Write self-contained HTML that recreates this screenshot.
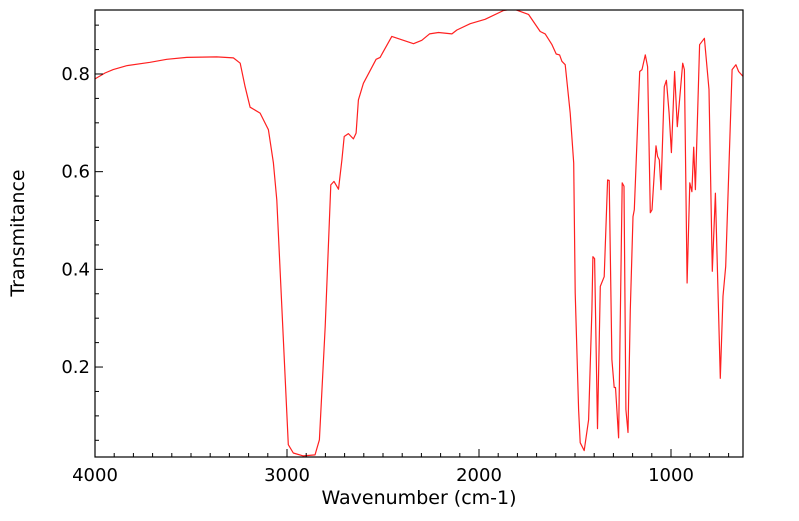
<!DOCTYPE html>
<html><head><meta charset="utf-8"><style>
body{margin:0;background:#fff;}
svg text{font-family:"DejaVu Sans","Liberation Sans",sans-serif;}
</style></head><body>
<svg id="chart" width="799" height="516" xmlns="http://www.w3.org/2000/svg"></svg>
<script>
const wavenumbers=[4000,3948,3905,3835,3713,3626,3522,3366,3279,3244,3218,3192,3140,3097,3071,3053,2993,2967,2915,2854,2831,2801,2772,2755,2732,2714,2702,2680,2654,2640,2628,2602,2536,2515,2454,2341,2298,2258,2211,2141,2115,2046,1968,1872,1820,1742,1681,1655,1620,1598,1580,1568,1551,1525,1507,1499,1481,1473,1452,1429,1412,1407,1398,1383,1368,1348,1330,1322,1308,1296,1289,1273,1254,1245,1235,1224,1212,1198,1191,1163,1151,1134,1122,1108,1099,1078,1070,1061,1052,1035,1024,1010,998,981,967,939,930,916,902,891,882,873,851,826,802,785,769,743,729,715,682,662,648,625];
const transmittance=[0.790,0.802,0.809,0.817,0.824,0.830,0.834,0.835,0.833,0.822,0.774,0.732,0.720,0.686,0.618,0.542,0.041,0.024,0.018,0.020,0.051,0.283,0.573,0.580,0.564,0.624,0.672,0.678,0.667,0.679,0.747,0.781,0.830,0.834,0.877,0.862,0.869,0.882,0.885,0.882,0.890,0.903,0.912,0.930,0.933,0.922,0.887,0.882,0.860,0.841,0.839,0.826,0.819,0.720,0.618,0.352,0.113,0.045,0.029,0.092,0.317,0.426,0.422,0.074,0.365,0.385,0.583,0.582,0.215,0.158,0.158,0.055,0.577,0.570,0.113,0.066,0.317,0.508,0.522,0.805,0.809,0.839,0.815,0.516,0.522,0.653,0.631,0.624,0.563,0.774,0.787,0.720,0.639,0.805,0.692,0.822,0.809,0.372,0.577,0.559,0.650,0.563,0.860,0.873,0.768,0.396,0.556,0.177,0.345,0.406,0.809,0.819,0.805,0.795];
const xTicks=[4000,3000,2000,1000];
const xTickLabels=["4000","3000","2000","1000"];
const yTicks=[0.2,0.4,0.6,0.8];
const yTickLabels=["0.2","0.4","0.6","0.8"];

const NS="http://www.w3.org/2000/svg";
const svg=document.getElementById('chart');
const L=95,R=743,T=10,B=457;
const xMax=4000,xMin=625,yMin=0.0158,yMax=0.931;
const sx=v=>L+(xMax-v)/(xMax-xMin)*(R-L);
const sy=v=>B-(v-yMin)/(yMax-yMin)*(B-T);
function mk(tag,attrs){const e=document.createElementNS(NS,tag);for(const k in attrs)e.setAttribute(k,attrs[k]);svg.appendChild(e);return e;}

const defs=document.createElementNS(NS,'defs');
const cp=document.createElementNS(NS,'clipPath');cp.setAttribute('id','clip');
const cr=document.createElementNS(NS,'rect');cr.setAttribute('x',L);cr.setAttribute('y',T);cr.setAttribute('width',R-L);cr.setAttribute('height',B-T);
cp.appendChild(cr);defs.appendChild(cp);svg.appendChild(defs);

let d='';
wavenumbers.forEach((w,i)=>{d+=(i?'L':'M')+sx(w).toFixed(1)+','+sy(transmittance[i]).toFixed(1);});
const line=mk('path',{d:d,fill:'none',stroke:'#ff2020','stroke-width':1.2,'stroke-linejoin':'round','clip-path':'url(#clip)'});



const frame=mk('rect',{x:L,y:T,width:R-L,height:B-T,fill:'none',stroke:'#000','stroke-width':1.2});



for(let w=700;w<=3900;w+=100){
  if(w%1000===0)continue;
  const t=mk('line',{x1:sx(w),x2:sx(w),y1:B,y2:B-4,stroke:'#000','stroke-width':1});
  
  
}
xTicks.forEach((w,i)=>{
  const t=mk('line',{x1:sx(w),x2:sx(w),y1:B,y2:B-8,stroke:'#000','stroke-width':1});
  
  
  const lb=mk('text',{x:sx(w),y:B+24,'font-size':18,'text-anchor':'middle',fill:'#000'});
  lb.textContent=xTickLabels[i];
  
  
});
for(let k=1;k<=18;k++){
  const v=k*0.05;
  if(v>yMax)break;
  if(k%4===0)continue;
  const t=mk('line',{x1:L,x2:L+4,y1:sy(v),y2:sy(v),stroke:'#000','stroke-width':1});
  
  
}
yTicks.forEach((v,i)=>{
  const t=mk('line',{x1:L,x2:L+8,y1:sy(v),y2:sy(v),stroke:'#000','stroke-width':1});
  
  
  const lb=mk('text',{x:L-5,y:sy(v)+6,'font-size':18,'text-anchor':'end',fill:'#000'});
  lb.textContent=yTickLabels[i];
  
  
});
const xt=mk('text',{x:419,y:504,'font-size':19,'text-anchor':'middle',fill:'#000'});
xt.textContent='Wavenumber (cm-1)';


const yt=mk('text',{x:0,y:0,'font-size':19,'text-anchor':'middle',fill:'#000',transform:'translate(24,233) rotate(-90)'});
yt.textContent='Transmitance';


</script>
</body></html>
